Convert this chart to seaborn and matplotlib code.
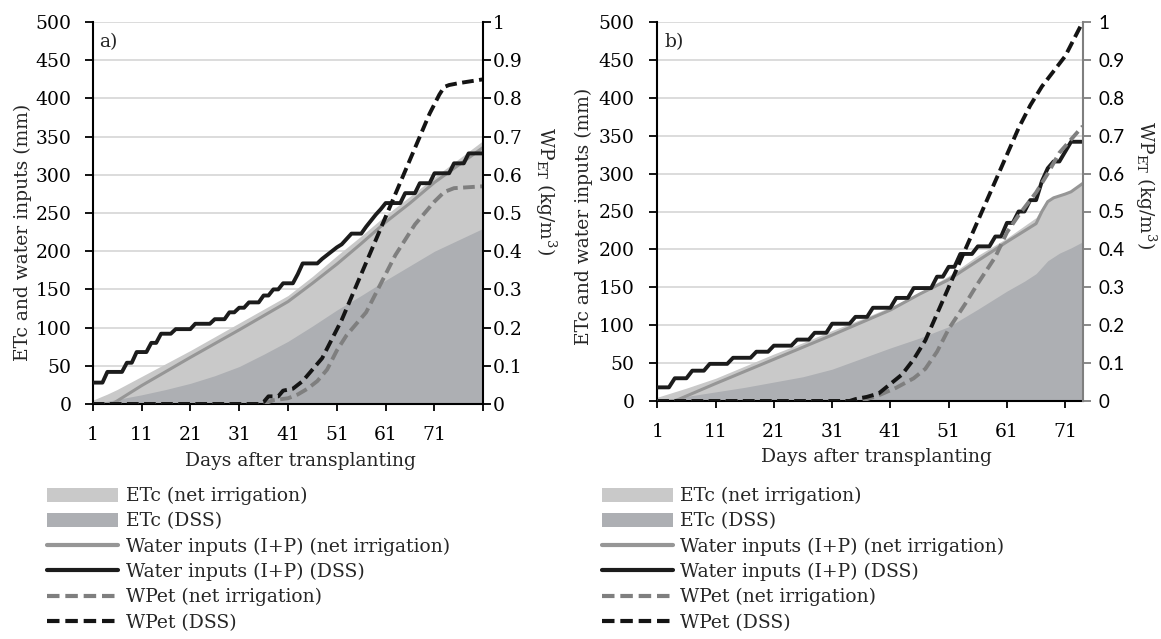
import numpy as np
import pandas as pd
import matplotlib
matplotlib.use("Agg")
import matplotlib.pyplot as plt
import seaborn as sns
from matplotlib.patches import Patch
from matplotlib.lines import Line2D

# ---------------- data: panel a ----------------
wi_dss_a = [28, 28, 28, 42, 42, 42, 42, 54, 54, 68, 68, 68, 80, 80, 92, 92, 92, 98, 98, 98,
            98, 105, 105, 105, 105, 111, 111, 111, 120, 120, 126, 126, 133, 133, 133, 142, 142, 150, 150, 158,
            158, 158, 170, 184, 184, 184, 184, 190, 195, 200, 205, 209, 216, 223, 223, 223, 232, 240, 248, 255,
            263, 263, 263, 263, 276, 276, 276, 289, 289, 289, 302, 302, 302, 302, 315, 315, 315, 328, 328, 328,
            328]
etc_net_days_a = [1, 4, 6, 11, 16, 21, 26, 31, 36, 41, 46, 51, 56, 61, 66, 71, 76, 81]
etc_net_a = [5, 13, 19, 36, 53, 70, 88, 106, 124, 142, 167, 194, 220, 247, 272, 297, 321, 345]
etc_dss_days_a = [1, 6, 11, 16, 21, 26, 31, 36, 41, 46, 51, 56, 61, 66, 71, 76, 81]
etc_dss_a = [0, 6, 12, 19, 27, 37, 49, 65, 82, 102, 123, 142, 162, 181, 200, 215, 230]
wi_net_days_a = [1, 5, 11, 21, 31, 41, 46, 51, 56, 61, 66, 71, 76, 81]
wi_net_a = [0, 0, 24, 61, 97, 134, 158, 183, 210, 238, 263, 290, 313, 336]
wp_net_days_a = [1, 36, 38, 41, 43, 45, 47, 49, 51, 53, 55, 57, 59, 61, 63, 65, 67, 69, 71, 73, 75, 81]
wp_net_a = [0, 0, 0.01, 0.015, 0.025, 0.04, 0.06, 0.09, 0.14, 0.18, 0.21, 0.24, 0.29, 0.34, 0.39,
            0.43, 0.47, 0.50, 0.53, 0.555, 0.565, 0.57]
wp_dss_days_a = [1, 35, 36, 37, 39, 40, 42, 44, 46, 48, 50, 52, 54, 56, 58, 60, 62, 64, 66, 68, 70,
                 72, 73, 74, 76, 81]
wp_dss_a = [0, 0, 0.005, 0.02, 0.02, 0.035, 0.04, 0.06, 0.09, 0.12, 0.17, 0.22, 0.28, 0.34, 0.40,
            0.46, 0.52, 0.58, 0.64, 0.70, 0.76, 0.81, 0.83, 0.835, 0.84, 0.85]

# ---------------- data: panel b ----------------
wi_dss_b = [18, 18, 18, 30, 30, 30, 40, 40, 40, 49, 49, 49, 49, 57, 57, 57, 57, 65, 65, 65,
            73, 73, 73, 73, 81, 81, 81, 90, 90, 90, 102, 102, 102, 102, 111, 111, 111, 123, 123, 123,
            123, 136, 136, 136, 149, 149, 149, 149, 164, 164, 177, 177, 194, 194, 194, 204, 204, 204, 217, 217,
            235, 235, 250, 250, 265, 265, 290, 307, 316, 316, 329, 342, 342, 342]
etc_net_days_b = [1, 6, 11, 16, 21, 26, 31, 36, 41, 46, 51, 56, 61, 66, 67, 68, 70, 72, 74]
etc_net_b = [5, 17, 30, 46, 62, 77, 93, 108, 124, 143, 165, 192, 215, 242, 255, 265, 270, 276, 289]
etc_dss_days_b = [1, 6, 11, 16, 21, 26, 31, 36, 41, 46, 51, 56, 61, 64, 66, 68, 70, 72, 74]
etc_dss_b = [0, 6, 12, 18, 25, 32, 42, 56, 70, 83, 98, 121, 145, 158, 168, 185, 195, 202, 210]
wi_net_days_b = [1, 4, 11, 21, 31, 41, 46, 51, 56, 61, 66, 67, 68, 69, 71, 72, 74]
wi_net_b = [0, 0, 23, 55, 87, 120, 141, 160, 185, 210, 234, 250, 263, 268, 273, 276, 287]
wp_net_days_b = [1, 35, 37, 39, 42, 45, 47, 49, 51, 54, 56, 59, 61, 63, 66, 68, 70, 72, 74]
wp_net_b = [0, 0, 0.005, 0.015, 0.035, 0.06, 0.085, 0.13, 0.19, 0.26, 0.31, 0.38, 0.445, 0.49,
            0.55, 0.60, 0.655, 0.69, 0.725]
wp_dss_days_b = [1, 34, 35, 37, 39, 41, 43, 45, 47, 49, 51, 53, 55, 57, 59, 61, 63, 65, 67, 69, 71, 73, 74]
wp_dss_b = [0, 0, 0.005, 0.011, 0.02, 0.045, 0.07, 0.11, 0.16, 0.23, 0.30, 0.37, 0.44, 0.51, 0.58,
            0.65, 0.72, 0.78, 0.83, 0.87, 0.91, 0.97, 1.0]

x_tick_days = [1, 11, 21, 31, 41, 51, 61, 71]
left_ticks = [0, 50, 100, 150, 200, 250, 300, 350, 400, 450, 500]
right_ticks = [0, 0.1, 0.2, 0.3, 0.4, 0.5, 0.6, 0.7, 0.8, 0.9, 1.0]
right_labels = ["0", "0.1", "0.2", "0.3", "0.4", "0.5", "0.6", "0.7", "0.8", "0.9", "1"]
legend_labels = ["ETc (net irrigation)", "ETc (DSS)", "Water inputs (I+P) (net irrigation)",
                 "Water inputs (I+P) (DSS)", "WPet (net irrigation)", "WPet (DSS)"]

# ---------------- style ----------------
sns.set_theme(style="white")
plt.rcParams["font.family"] = ["DejaVu Serif"]
plt.rcParams["mathtext.fontset"] = "dejavuserif"

C_LIGHT = "#c9c9c9"
C_DARK = "#adafb3"
C_GRAYLINE = "#969696"
C_BLACK = "#1c1c1c"
C_GRAYDASH = "#7f7f7f"
C_BLACKDASH = "#141414"
DASH = (0, (3.0, 1.4))
FS = 13.5
FS_PX = FS * 100 / 72

W, H = 1161, 639
fig = plt.figure(figsize=(W / 100, H / 100), dpi=100)


def px_axes(l, t, r, b):
    return fig.add_axes([l / W, 1 - b / H, (r - l) / W, (b - t) / H])


def panel(ax, xmax, wi_dss, etc_net_d, etc_net, etc_dss_d, etc_dss, wi_net_d, wi_net,
          wp_net_d, wp_net, wp_dss_d, wp_dss, letter, right_spine_color, right_font, lpad, rpad,
          wpl_x, wpl_y, xl_x):
    ax.fill_between(etc_net_d, 0, etc_net, color=C_LIGHT, lw=0, zorder=1)
    ax.fill_between(etc_dss_d, 0, etc_dss, color=C_DARK, lw=0, zorder=1.1)
    sns.lineplot(x=wi_net_d, y=wi_net, ax=ax, color=C_GRAYLINE, linewidth=2.2,
                 errorbar=None, estimator=None, zorder=2)
    days = list(range(1, len(wi_dss) + 1))
    sns.lineplot(x=days, y=wi_dss, ax=ax, color=C_BLACK, linewidth=2.8,
                 errorbar=None, estimator=None, zorder=3)
    ax.set_xlim(1, xmax)
    ax.set_ylim(0, 500)
    ax.set_yticks(left_ticks)
    ax.set_yticklabels([str(v) for v in left_ticks])
    ticks = [d for d in x_tick_days if d <= xmax]
    if xmax == 81:
        ticks = ticks + [81]
    ax.set_xticks(ticks)
    ax.set_xticklabels([str(d) if d < 80 else "" for d in ticks])
    ax.grid(axis="y", color="#d9d9d9", lw=1.3, zorder=0)
    ax.grid(axis="x", visible=False)
    ax.set_axisbelow(True)
    for s in ["top", "right"]:
        ax.spines[s].set_visible(False)
    for s in ["left", "bottom"]:
        ax.spines[s].set_color("black")
        ax.spines[s].set_linewidth(1.5)
    ax.tick_params(axis="y", direction="out", length=5.5, width=1.3, pad=lpad, labelsize=FS,
                   left=True, colors="black")
    ax.tick_params(axis="x", direction="out", length=5, width=1.3, pad=10.5, labelsize=FS,
                   bottom=True, colors="black")
    ax.set_xlabel("")
    ax.set_ylabel("")
    ax.text(xl_x, -0.148, "Days after transplanting", transform=ax.transAxes, ha="center",
            va="center", fontsize=FS)
    ax.text(0.016, 0.947, letter, transform=ax.transAxes, ha="left", va="center", fontsize=FS)

    ax2 = ax.twinx()
    sns.lineplot(x=wp_net_d, y=wp_net, ax=ax2, color=C_GRAYDASH, linewidth=2.8, linestyle=DASH,
                 errorbar=None, estimator=None)
    sns.lineplot(x=wp_dss_d, y=wp_dss, ax=ax2, color=C_BLACKDASH, linewidth=2.8, linestyle=DASH,
                 errorbar=None, estimator=None)
    ax2.set_ylim(0, 1)
    ax2.set_xlim(1, xmax)
    ax2.set_yticks(right_ticks)
    ax2.set_yticklabels(right_labels, fontfamily=right_font, fontsize=FS)
    ax2.grid(False)
    for s in ["top", "left", "bottom"]:
        ax2.spines[s].set_visible(False)
    ax2.spines["right"].set_color(right_spine_color)
    ax2.spines["right"].set_linewidth(1.5)
    ax2.tick_params(axis="y", direction="out", length=5.5, width=1.3, pad=rpad, right=True,
                    colors=right_spine_color, labelcolor="black")
    ax2.set_ylabel("")
    ax2.text(wpl_x, wpl_y, r"WP$_{\mathrm{ET}}$ (kg/m$^3$)", transform=ax2.transAxes,
             rotation=270, ha="center", va="center", fontsize=FS)
    return ax2


ax_a = px_axes(92.7, 22, 483.3, 404)
panel(ax_a, 81, wi_dss_a, etc_net_days_a, etc_net_a, etc_dss_days_a, etc_dss_a,
      wi_net_days_a, wi_net_a, wp_net_days_a, wp_net_a, wp_dss_days_a, wp_dss_a,
      "a)", "black", "DejaVu Serif", 9.5, 1, 1.16, 0.558, 0.533)
ax_a.text(-0.18, 0.45, "ETc and water inputs (mm)", transform=ax_a.transAxes, rotation=90,
          ha="center", va="center", fontsize=FS)

ax_b = px_axes(657.3, 22, 1082.7, 401)
panel(ax_b, 74, wi_dss_b, etc_net_days_b, etc_net_b, etc_dss_days_b, etc_dss_b,
      wi_net_days_b, wi_net_b, wp_net_days_b, wp_net_b, wp_dss_days_b, wp_dss_b,
      "b)", "#7f7f7f", "Lato", 11, 6, 1.148, 0.569, 0.516)
ax_b.text(-0.172, 0.487, "ETc and water inputs (mm)", transform=ax_b.transAxes, rotation=90,
          ha="center", va="center", fontsize=FS)


def legend_handles():
    return [Patch(facecolor=C_LIGHT, edgecolor="none"),
            Patch(facecolor=C_DARK, edgecolor="none"),
            Line2D([], [], color=C_GRAYLINE, lw=3.0),
            Line2D([], [], color=C_BLACK, lw=3.0),
            Line2D([], [], color=C_GRAYDASH, lw=3.0, linestyle=DASH),
            Line2D([], [], color=C_BLACKDASH, lw=3.0, linestyle=DASH)]


for x0 in [47, 602]:
    fig.legend(legend_handles(), legend_labels, loc="upper left",
               bbox_to_anchor=(x0 / W, 1 - 487 / H), bbox_transform=fig.transFigure,
               frameon=False, borderpad=0, borderaxespad=0, fontsize=FS,
               handlelength=71 / FS_PX, handletextpad=7.5 / FS_PX, handleheight=0.8,
               labelspacing=0.38)

fig.savefig("out.png", dpi=100)
